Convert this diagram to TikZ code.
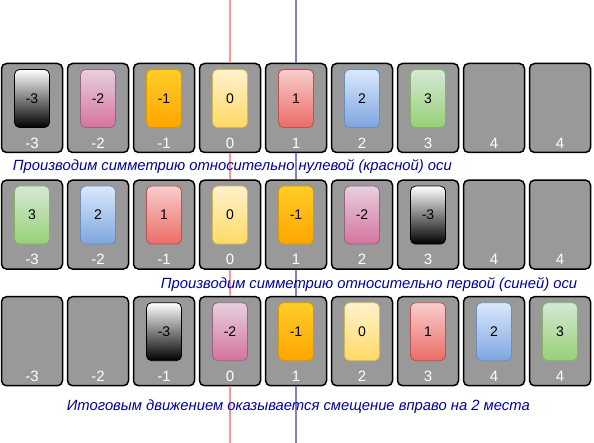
\documentclass[tikz,border=0pt]{standalone}
\usepackage{fontspec}
\setmainfont{Liberation Sans}
\definecolor{capblue}{RGB}{0,0,160}
\definecolor{slotgray}{RGB}{153,153,153}
\definecolor{axisred}{RGB}{255,150,150}
\definecolor{axisblue}{RGB}{128,128,208}
\tikzset{
  slot/.style={draw=black, line width=1.5pt, fill=slotgray, rounded corners=5pt,
    minimum width=61pt, minimum height=89pt, inner sep=0pt},
  card/.style={rounded corners=5pt, minimum width=35pt, minimum height=58pt,
    inner sep=0pt, line width=0.8pt, font=\fontsize{14}{14}\selectfont, text=black},
  cm3/.style={card, draw=black, top color=white, bottom color=black},
  cm2/.style={card, draw={rgb,255:red,153;green,97;blue,133}, top color={rgb,255:red,230;green,208;blue,222}, bottom color={rgb,255:red,213;green,115;blue,157}},
  cm1/.style={card, draw={rgb,255:red,215;green,155;blue,0}, top color={rgb,255:red,255;green,205;blue,40}, bottom color={rgb,255:red,255;green,165;blue,0}},
  c0/.style={card, draw={rgb,255:red,214;green,182;blue,86}, top color={rgb,255:red,255;green,242;blue,204}, bottom color={rgb,255:red,255;green,217;blue,102}},
  c1/.style={card, draw={rgb,255:red,184;green,84;blue,80}, top color={rgb,255:red,248;green,206;blue,204}, bottom color={rgb,255:red,234;green,107;blue,102}},
  c2/.style={card, draw={rgb,255:red,108;green,142;blue,191}, top color={rgb,255:red,218;green,232;blue,252}, bottom color={rgb,255:red,126;green,166;blue,224}},
  c3/.style={card, draw={rgb,255:red,130;green,179;blue,102}, top color={rgb,255:red,213;green,232;blue,212}, bottom color={rgb,255:red,151;green,208;blue,119}},
  poslabel/.style={text=white, font=\fontsize{15}{15}\selectfont, inner sep=0pt},
  caption/.style={text=capblue, font=\fontsize{14.8}{14.8}\selectfont\itshape, inner sep=0pt, anchor=base west},
  redline/.style={line width=1.2pt, draw=axisred},
  blueline/.style={line width=1.2pt, draw=axisblue}
}
\begin{document}
\begin{tikzpicture}[x=1pt,y=-1pt]
\useasboundingbox (0,0) rectangle (594,443);
% slots and position labels
\foreach \r in {0,1,2}{
  \foreach \i/\t in {0/-3,1/-2,2/-1,3/0,4/1,5/2,6/3,7/4,8/4}{
    \pgfmathsetmacro{\xc}{32+66*\i}
    \pgfmathsetmacro{\yt}{63+116.6*\r}
    \node[slot] (b-\r-\i) at (\xc,\yt+45) {};
    \node[poslabel] (l-\r-\i) at (\xc,\yt+80) {\t};
  }
}
% axes (only in the gaps between the rows of slots)
\coordinate (redtop) at (b-0-3.north |- 0,0);
\coordinate (redbot) at (b-2-3.south |- 0,443);
\coordinate (bluetop) at (b-0-4.north |- 0,0);
\coordinate (bluebot) at (b-2-4.south |- 0,443);
\draw[redline] (redtop) -- (b-0-3.north);
\draw[redline] (b-0-3.south) -- (b-1-3.north);
\draw[redline] (b-1-3.south) -- (b-2-3.north);
\draw[redline] (b-2-3.south) -- (redbot);
\draw[blueline] (bluetop) -- (b-0-4.north);
\draw[blueline] (b-0-4.south) -- (b-1-4.north);
\draw[blueline] (b-1-4.south) -- (b-2-4.north);
\draw[blueline] (b-2-4.south) -- (bluebot);
% cards row 0
\foreach \p/\v/\s in {0/-3/cm3,1/-2/cm2,2/-1/cm1,3/0/c0,4/1/c1,5/2/c2,6/3/c3}{
  \pgfmathsetmacro{\xc}{32+66*\p}
  \node[\s] (c-0-\p) at (\xc,63+35.5) {\v};
}
% cards row 1
\foreach \p/\v/\s in {0/3/c3,1/2/c2,2/1/c1,3/0/c0,4/-1/cm1,5/-2/cm2,6/-3/cm3}{
  \pgfmathsetmacro{\xc}{32+66*\p}
  \node[\s] (c-1-\p) at (\xc,179.6+35.5) {\v};
}
% cards row 2
\foreach \p/\v/\s in {2/-3/cm3,3/-2/cm2,4/-1/cm1,5/0/c0,6/1/c1,7/2/c2,8/3/c3}{
  \pgfmathsetmacro{\xc}{32+66*\p}
  \node[\s] (c-2-\p) at (\xc,296.2+35.5) {\v};
}
% captions
\node[caption] (cap1) at (12.7,170.7) {Производим симметрию относительно нулевой (красной) оси};
\node[caption] (cap2) at (160.7,289) {Производим симметрию относительно первой (синей) оси};
\node[caption] (cap3) at (66.7,410) {Итоговым движением оказывается смещение вправо на 2 места};
\end{tikzpicture}
\end{document}
